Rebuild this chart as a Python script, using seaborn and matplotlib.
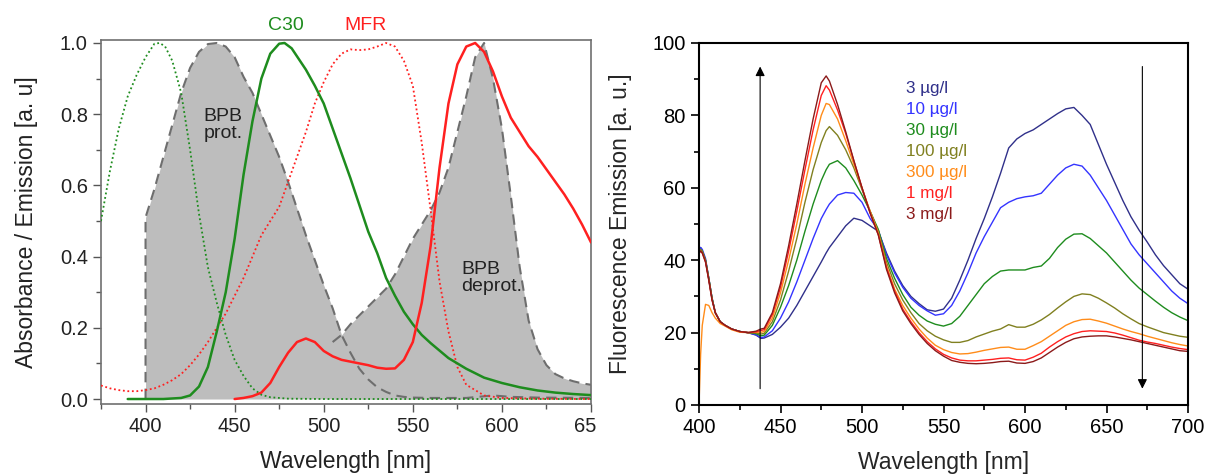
import numpy as np
import pandas as pd
import matplotlib
matplotlib.use("Agg")
import matplotlib.pyplot as plt
import seaborn as sns
from matplotlib.ticker import MultipleLocator
from matplotlib.patches import Rectangle

# ---------------- Left panel data ----------------
bpb_prot_x = [400, 400, 405, 410, 415, 420, 425, 430, 435, 440, 445, 450, 455, 460, 465, 470, 475, 480,
              485, 490, 495, 500, 505, 510, 515, 520, 525, 530, 535, 540, 545, 550, 560, 580, 595, 605, 620, 650]
bpb_prot_y = [0.0, 0.51, 0.59, 0.68, 0.77, 0.86, 0.93, 0.975, 0.997, 1.0, 0.99, 0.96, 0.905, 0.86, 0.8, 0.74,
              0.68, 0.61, 0.535, 0.46, 0.39, 0.32, 0.255, 0.18, 0.13, 0.085, 0.055, 0.033, 0.02, 0.01, 0.006,
              0.004, 0.003, 0.003, 0.01, 0.006, 0.004, 0.003]

bpb_deprot_x = [505, 510, 515, 520, 525, 530, 535, 540, 545, 550, 555, 560, 565, 570, 575, 580, 585, 590,
                595, 600, 605, 610, 615, 620, 625, 630, 635, 640, 645, 650]
bpb_deprot_y = [0.16, 0.18, 0.21, 0.235, 0.26, 0.285, 0.31, 0.35, 0.4, 0.45, 0.49, 0.53, 0.58, 0.65, 0.75,
                0.85, 0.96, 1.0, 0.9, 0.76, 0.57, 0.37, 0.22, 0.14, 0.095, 0.07, 0.058, 0.05, 0.044, 0.04]

c30_abs_x = [375, 380, 385, 390, 395, 400, 405, 408, 411, 415, 420, 425, 430, 435, 440, 445, 450, 455, 460,
             465, 470, 480, 500, 550, 600, 650]
c30_abs_y = [0.5, 0.64, 0.76, 0.85, 0.91, 0.96, 0.998, 1.0, 0.99, 0.95, 0.86, 0.7, 0.52, 0.37, 0.27, 0.18,
             0.11, 0.065, 0.03, 0.012, 0.005, 0.001, 0.0, 0.0, 0.0, 0.0]

c30_em_x = [390, 400, 410, 420, 425, 430, 435, 440, 445, 450, 455, 460, 465, 470, 475, 478, 482, 486, 490,
            495, 500, 505, 510, 515, 520, 525, 530, 535, 540, 545, 550, 555, 560, 570, 580, 590, 600, 610, 620,
            630, 640, 650]
c30_em_y = [0.0, 0.0, 0.0, 0.003, 0.01, 0.035, 0.09, 0.19, 0.3, 0.45, 0.63, 0.78, 0.9, 0.97, 0.998, 1.0,
            0.985, 0.955, 0.925, 0.88, 0.83, 0.76, 0.69, 0.62, 0.545, 0.47, 0.41, 0.34, 0.29, 0.245, 0.21,
            0.18, 0.157, 0.115, 0.085, 0.06, 0.045, 0.033, 0.024, 0.018, 0.014, 0.011]

mfr_abs_x = [375, 380, 385, 390, 395, 400, 405, 410, 415, 420, 425, 430, 435, 440, 445, 450, 455, 460, 465,
             470, 475, 480, 485, 490, 495, 500, 505, 510, 515, 520, 525, 530, 535, 540, 545, 550, 555, 560,
             565, 570, 575, 580, 590, 600, 620, 650]
mfr_abs_y = [0.038, 0.03, 0.025, 0.022, 0.022, 0.025, 0.03, 0.04, 0.053, 0.07, 0.095, 0.125, 0.16, 0.2,
             0.24, 0.29, 0.34, 0.4, 0.46, 0.5, 0.54, 0.61, 0.68, 0.75, 0.83, 0.89, 0.94, 0.97, 0.982, 0.98,
             0.982, 0.99, 1.0, 0.99, 0.95, 0.88, 0.72, 0.53, 0.33, 0.19, 0.09, 0.04, 0.01, 0.003, 0.001, 0.0]

mfr_em_x = [450, 455, 460, 465, 470, 475, 480, 485, 490, 495, 500, 505, 510, 515, 520, 525, 530, 535, 540,
            545, 550, 555, 560, 565, 570, 575, 580, 585, 590, 595, 600, 605, 610, 615, 620, 625, 630, 635,
            640, 645, 650]
mfr_em_y = [0.0, 0.003, 0.008, 0.018, 0.045, 0.09, 0.13, 0.16, 0.17, 0.16, 0.135, 0.12, 0.11, 0.105, 0.1,
            0.095, 0.088, 0.085, 0.086, 0.11, 0.16, 0.27, 0.43, 0.65, 0.83, 0.94, 0.99, 1.0, 0.975, 0.92,
            0.85, 0.79, 0.75, 0.71, 0.68, 0.645, 0.61, 0.575, 0.535, 0.49, 0.44]

# ---------------- Right panel data ----------------
wl = [400, 401, 402, 404, 406, 408, 410, 413, 416, 420,
      425, 430, 435, 438, 440, 445, 450, 455, 460, 465,
      470, 475, 478, 480, 485, 490, 495, 500, 505, 510,
      515, 520, 525, 530, 535, 540, 545, 550, 555, 560,
      565, 570, 575, 580, 585, 590, 595, 600, 605, 610,
      615, 620, 625, 630, 635, 640, 645, 650, 655, 660,
      665, 670, 675, 680, 685, 690, 695, 700]

conc_labels = ["3 µg/l", "10 µg/l", "30 µg/l", "100 µg/l", "300 µg/l", "1 mg/l", "3 mg/l"]
conc_colors = ["#30308a", "#3434ff", "#1e8c1e", "#808020", "#ff8c1a", "#ff2020", "#8b1a1a"]

em_3ug = [43.5, 43.5, 42.5, 40, 35, 29.5, 25.5, 23, 22, 21,
          20.3, 20, 19.3, 18.4, 18.5, 19.5, 21.5, 24, 27.5, 31.5,
          35.5, 39.5, 42, 43.5, 46.5, 49.5, 51.6, 51, 49.5, 48,
          42, 37, 33, 30, 28, 26.3, 25.9, 26.5, 29.5, 34.5,
          40, 46, 51.5, 57.5, 64, 71, 73.5, 75, 76, 77.5,
          79, 80.5, 81.8, 82.2, 80, 77.5, 72, 66.5, 61.5, 56.5,
          52, 48.3, 45, 41.5, 38.5, 36, 33.5, 32]
em_10ug = [43, 43.5, 43, 40.5, 35, 29.5, 25.5, 23, 22, 21,
           20.3, 20, 19.4, 18.6, 18.8, 20.5, 24, 28.5, 34, 40,
           46, 51.5, 54, 55.5, 58, 58.7, 58.5, 56, 51.5, 48.3,
           41.5, 36.5, 32.5, 29.5, 27.5, 26, 24.8, 25.2, 27.5, 31.5,
           36.5, 42, 46.5, 50.5, 54.5, 56, 57, 57.5, 57.8, 58.5,
           61, 63.5, 65.5, 66.5, 66, 63.5, 60, 56.5, 52.5, 48.5,
           44.5, 41.5, 39, 36.5, 34, 31.5, 29.5, 28]
em_30ug = [42.5, 43, 42.5, 40, 35, 29.5, 25.5, 23, 22, 21,
           20.3, 20, 19.7, 19.1, 19.3, 22, 27, 33, 40, 48,
           55.5, 62, 65, 66.5, 67.5, 65.5, 62, 58, 53.5, 48.5,
           40.5, 35, 30.5, 27, 24.8, 23.2, 22.3, 21.8, 22.5, 24.5,
           27.5, 30.5, 33.5, 35.5, 37, 37.3, 37.3, 37.3, 38, 38.4,
           40.5, 43.5, 45.8, 47.2, 47.3, 46, 44, 42, 39.5, 37,
           34.5, 32.3, 30.5, 28.7, 27, 25.5, 24.3, 23.3]
em_100ug = [42.5, 43, 42.5, 40, 35, 29.5, 25.5, 23, 22, 21,
            20.3, 20, 19.9, 19.6, 19.8, 23, 29, 37, 46, 56,
            65, 72.5, 75.8, 76.9, 74.5, 70.5, 65.5, 59.5, 53.5, 48,
            39.5, 33.5, 29, 25.5, 22.5, 20.5, 19, 18, 17.3, 17.3,
            17.8, 18.8, 19.6, 20.4, 21, 22.2, 21.5, 21.5, 22.3, 23.5,
            25, 26.8, 28.5, 30, 30.7, 30.5, 29.5, 28.2, 26.8, 25.2,
            23.8, 22.5, 21.6, 20.8, 20, 19.5, 19, 18.7]
em_300ug = [0, 14, 22, 27.8, 27.5, 25.5, 24, 22.5, 21.8, 20.8,
            20.1, 20, 20.1, 20.1, 20.3, 24, 31, 40, 50, 61,
            71, 80, 83.3, 83, 79, 73, 66.5, 60, 53.5, 47.5,
            38.5, 32, 27.5, 24, 21, 18.5, 16.5, 15.3, 14.5, 14.1,
            14.2, 14.6, 15.1, 15.5, 15.9, 16, 15.4, 15.4, 16.4, 17.5,
            19, 20.5, 22, 23, 23.6, 23.7, 23.2, 22.6, 21.8, 21,
            20.3, 19.7, 19, 18.4, 17.8, 17.2, 16.7, 16.3]
em_1mg = [42, 42.5, 42, 39.5, 34.5, 29, 25.5, 23, 22, 21,
          20.3, 20, 20.2, 20.6, 20.8, 25, 32.5, 42.5, 53.5, 65,
          76, 85.5, 88.2, 87, 81.5, 75, 67.5, 60, 53, 47,
          38, 31.5, 26.5, 23, 20, 17.5, 15.5, 14, 13, 12.4,
          12.2, 12.2, 12.4, 12.6, 12.9, 13, 12.5, 12.4, 13.2, 14.3,
          16, 17.5, 18.8, 19.7, 20.3, 20.5, 20.4, 20.3, 19.9, 19.3,
          18.6, 17.9, 17.4, 17, 16.5, 16, 15.6, 15.3]
em_3mg = [42, 42.5, 42, 39.5, 34.5, 29, 25.5, 23, 22, 21,
          20.3, 20, 20.4, 21, 21.2, 25.5, 33.5, 44, 55.5, 67.5,
          79, 89, 90.9, 89.5, 83, 75.5, 67.5, 60, 53, 47,
          37.5, 31, 26, 22.5, 19.5, 17, 15, 13.5, 12.3, 11.8,
          11.5, 11.4, 11.5, 11.7, 12, 12.1, 11.6, 11.5, 12, 13,
          14.5, 16, 17.3, 18.3, 18.8, 19, 19.1, 19.1, 18.8, 18.4,
          18, 17.5, 17, 16.5, 16, 15.5, 15, 14.8]

series = [em_3ug, em_10ug, em_30ug, em_100ug, em_300ug, em_1mg, em_3mg]
df = pd.concat([pd.DataFrame({"wl": wl, "em": s, "conc": lab}) for s, lab in zip(series, conc_labels)],
               ignore_index=True)

# ---------------- Styling ----------------
sns.set_theme(style="ticks")
plt.rcParams['font.family'] = ['Liberation Sans', 'DejaVu Sans']
plt.rcParams['axes.unicode_minus'] = False

fig = plt.figure(figsize=(12.05, 4.75), dpi=100)
ax1 = fig.add_axes([101 / 1205, 1 - 404 / 475, 490 / 1205, 364 / 475])
ax2 = fig.add_axes([699 / 1205, 1 - 405 / 475, 489 / 1205, 362 / 475])

GREEN = "#1e8c1e"
RED = "#ff2020"
TICK_FS = 14.5
LABEL_FS = 16.5

# ---------- Left panel ----------
ax1.fill_between(bpb_prot_x, 0, bpb_prot_y, color="#bdbdbd", lw=0, zorder=1)
ax1.fill_between(bpb_deprot_x, 0, bpb_deprot_y, color="#bdbdbd", lw=0, zorder=1)
sns.lineplot(x=bpb_prot_x, y=bpb_prot_y, ax=ax1, color="#6e6e6e", lw=1.5,
             estimator=None, sort=False, zorder=2)
ax1.lines[-1].set_dashes((5, 3))
sns.lineplot(x=bpb_deprot_x, y=bpb_deprot_y, ax=ax1, color="#6e6e6e", lw=1.5,
             estimator=None, sort=False, zorder=2)
ax1.lines[-1].set_dashes((5, 3))

sns.lineplot(x=c30_abs_x, y=c30_abs_y, ax=ax1, color=GREEN, lw=1.3, estimator=None, sort=False, zorder=3)
ax1.lines[-1].set_linestyle((0, (1, 1.5)))
sns.lineplot(x=mfr_abs_x, y=mfr_abs_y, ax=ax1, color=RED, lw=1.3, estimator=None, sort=False, zorder=3)
ax1.lines[-1].set_linestyle((0, (1, 1.5)))
sns.lineplot(x=c30_em_x, y=c30_em_y, ax=ax1, color=GREEN, lw=1.8, estimator=None, sort=False, zorder=4)
sns.lineplot(x=mfr_em_x, y=mfr_em_y, ax=ax1, color=RED, lw=1.8, estimator=None, sort=False, zorder=4)

ax1.set_xlim(375, 650)
ax1.set_ylim(-0.014, 1.0084)
ax1.set_xticks([400, 450, 500, 550, 600, 650])
ax1.set_yticks([0.0, 0.2, 0.4, 0.6, 0.8, 1.0])
ax1.set_yticklabels(["0.0", "0.2", "0.4", "0.6", "0.8", "1.0"])
ax1.xaxis.set_minor_locator(MultipleLocator(25))
ax1.yaxis.set_minor_locator(MultipleLocator(0.1))
for sp in ax1.spines.values():
    sp.set_visible(True)
    sp.set_color("#707070")
    sp.set_linewidth(1.2)
ax1.tick_params(which="both", direction="out", color="#555555", labelsize=TICK_FS, labelcolor="#222222")
ax1.tick_params(which="major", length=6, width=1.0)
ax1.tick_params(which="minor", length=3.5, width=1.0)
ax1.set_xlabel("Wavelength [nm]", fontsize=LABEL_FS, color="#222222", labelpad=10)
ax1.set_ylabel("Absorbance / Emission [a. u]", fontsize=LABEL_FS, color="#222222", labelpad=16)

ax1.text(478.8, 1.05, "C30", color=GREEN, fontsize=14, ha="center", va="center", clip_on=False)
ax1.text(523.7, 1.05, "MFR", color=RED, fontsize=14, ha="center", va="center", clip_on=False)
ax1.text(432.5, 0.77, "BPB\nprot.", color="#222222", fontsize=14, ha="left", va="center", linespacing=1.0)
ax1.text(577.3, 0.34, "BPB\ndeprot.", color="#222222", fontsize=14, ha="left", va="center", linespacing=1.0)

# clip the last tick label at the panel edge as in the reference
clip_rect = Rectangle((0, 0), 597 / 1205, 1, transform=fig.transFigure)
last_lab = ax1.get_xticklabels()[-1]
last_lab.set_clip_on(True)
last_lab.set_clip_path(clip_rect)

# ---------- Right panel ----------
palette = dict(zip(conc_labels, conc_colors))
sns.lineplot(data=df, x="wl", y="em", hue="conc", hue_order=conc_labels, palette=palette,
             estimator=None, sort=False, lw=1.0, legend=False, ax=ax2)

ax2.set_xlim(400, 700)
ax2.set_ylim(0, 100)
ax2.set_xticks([400, 450, 500, 550, 600, 650, 700])
ax2.set_yticks([0, 20, 40, 60, 80, 100])
ax2.xaxis.set_minor_locator(MultipleLocator(25))
ax2.yaxis.set_minor_locator(MultipleLocator(10))
for sp in ax2.spines.values():
    sp.set_visible(True)
    sp.set_color("black")
    sp.set_linewidth(1.5)
ax2.tick_params(which="both", direction="out", color="black", labelsize=TICK_FS, labelcolor="black")
ax2.tick_params(which="major", length=6, width=1.2)
ax2.tick_params(which="minor", length=3.5, width=1.2)
ax2.set_xlabel("Wavelength [nm]", fontsize=LABEL_FS, labelpad=10)
ax2.set_ylabel("Fluorescence Emission [a. u.]", fontsize=LABEL_FS, labelpad=15)

ax2.annotate("", xy=(437.5, 93.5), xytext=(437.5, 4.5),
             arrowprops=dict(arrowstyle="-|>", color="black", lw=0.8, mutation_scale=14,
                             shrinkA=0, shrinkB=0))
ax2.annotate("", xy=(672, 4.5), xytext=(672, 93.5),
             arrowprops=dict(arrowstyle="-|>", color="black", lw=0.8, mutation_scale=14,
                             shrinkA=0, shrinkB=0))

y0, dy = 87.4, 5.8
for i, (lab, col) in enumerate(zip(conc_labels, conc_colors)):
    ax2.text(527, y0 - i * dy, lab, color=col, fontsize=12.3, ha="left", va="center")

fig.savefig("out.png", dpi=100)
